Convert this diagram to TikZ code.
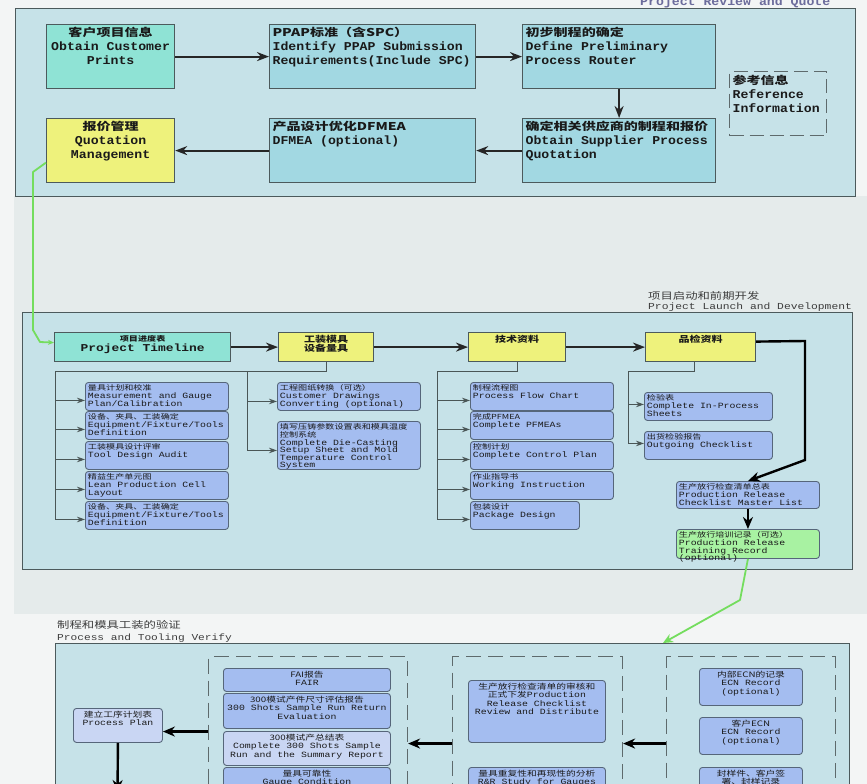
\documentclass[tikz,border=0pt]{standalone}
\usepackage{fontspec}
\usetikzlibrary{arrows.meta}
\newfontfamily\mf[FakeStretch=1.1]{Liberation Mono}
\newfontfamily\smf[FakeStretch=1.23]{Liberation Mono}
\newfontfamily\cjk[FakeStretch=1.3]{Noto Sans CJK SC}
\newcommand\bigf{\mf\bfseries\fontsize{12}{14}\selectfont}
\newcommand\smallf{\smf\fontsize{8}{7.6}\selectfont}
\newcommand\botf{\smf\fontsize{8}{8.5}\selectfont}
\newcommand\zhbig[1]{{\cjk\bfseries\fontsize{10.8}{14}\selectfont #1}}
\newcommand\zhsm[1]{{\cjk\fontsize{7}{7.6}\selectfont #1}}
\newcommand\zhmid[1]{{\cjk\bfseries\fontsize{8.5}{9}\selectfont #1}}
\newcommand\zhbot[1]{{\cjk\fontsize{7.5}{8.5}\selectfont #1}}
\newcommand\zhttl[1]{{\cjk\fontsize{9.5}{11}\selectfont #1}}
\newcommand\bxt[4]{\begin{minipage}[c][#2pt][t]{#1pt}#3#4\end{minipage}}
\definecolor{pfill}{HTML}{C6E2E8}
\definecolor{bdr}{HTML}{4C5A5C}
\definecolor{cteal}{HTML}{8FE3D5}
\definecolor{clb}{HTML}{A2D8E2}
\definecolor{cyel}{HTML}{EEF27C}
\definecolor{cblue}{HTML}{A4BDF0}
\definecolor{cbdr}{HTML}{56667A}
\definecolor{clav}{HTML}{C9D6F3}
\definecolor{cgrn}{HTML}{A8F2A2}
\definecolor{gln}{HTML}{74DD5E}
\definecolor{gdash}{HTML}{5E6A6C}
\definecolor{arrc}{HTML}{262626}
\definecolor{brc}{HTML}{4A5656}
\definecolor{txt}{HTML}{1A1A1A}
\definecolor{bgw}{HTML}{F3F5F5}
\definecolor{bgg}{HTML}{E5EBEB}
\definecolor{ttl}{HTML}{6C6C9C}
\definecolor{ttd}{HTML}{3C3C3C}
\begin{document}
\begin{tikzpicture}[x=1pt,y=-1pt,
 panel/.style={draw=bdr,line width=1.3pt,fill=pfill,anchor=north west,inner sep=0pt},
 tb/.style={draw=bdr,line width=1.2pt,inner sep=3pt,anchor=north west,font=\bigf,text=txt},
 cb/.style={draw=cbdr,line width=0.9pt,fill=cblue,rounded corners=3pt,inner sep=2.5pt,anchor=north west,font=\smallf,text=txt},
 bb/.style={cb,font=\botf},
 hb/.style={draw=bdr,line width=1.2pt,inner sep=2.5pt,anchor=north west,text=txt},
 grp/.style={draw=gdash,line width=1.1pt,dash pattern=on 15pt off 7pt,anchor=north west,inner sep=0pt},
 arr/.style={draw=arrc,line width=2pt,-{Stealth[length=12pt,width=9pt]}},
 tarr/.style={draw=black,line width=2.4pt,-{Stealth[length=12pt,width=10pt]}},
 brl/.style={draw=brc,line width=1pt},
 barr/.style={brl,-{Stealth[length=8pt,width=5.5pt]}},
 gline/.style={draw=gln,line width=1.8pt,line join=round}
]
\useasboundingbox (0,0) rectangle (867,784);
\fill[bgw] (0,0) rectangle (867,784);
\fill[bgg] (14,196) rectangle (867,614);

% ---------- panels ----------
\node[panel,minimum width=840pt,minimum height=188pt] (P1) at (15,8) {};
\node[panel,minimum width=830pt,minimum height=257pt] (P2) at (22,312) {};
\node[panel,minimum width=794pt,minimum height=180pt] (P3) at (55,643) {};

% ---------- titles ----------
\node[anchor=base west,inner sep=0pt,font=\mf\bfseries\fontsize{12}{12}\selectfont,text=ttl] (T1) at (640,6) {Project Review and Quote};
\node[anchor=north west,inner sep=0pt,align=left,text=ttd,font=\smf\fontsize{9.2}{10}\selectfont] (T2) at (648,291) {\zhttl{项目启动和前期开发}\\Project Launch and Development};
\node[anchor=north west,inner sep=0pt,align=left,text=ttd,font=\smf\fontsize{9.1}{12}\selectfont] (T3) at (57,620) {\zhttl{制程和模具工装的验证}\\Process and Tooling Verify};

% ---------- panel 1 ----------
\node[tb,fill=cteal] (A) at (46,24) {\bxt{122}{58}{\centering}{\zhbig{客户项目信息}\\Obtain Customer\\Prints}};
\node[tb,fill=clb] (B) at (269,24) {\bxt{200}{58}{\raggedright}{\zhbig{PPAP标准（含SPC）}\\Identify PPAP Submission\\Requirements(Include SPC)}};
\node[tb,fill=clb] (C) at (522,24) {\bxt{187}{58}{\raggedright}{\zhbig{初步制程的确定}\\Define Preliminary\\Process Router}};
\node[tb,fill=clb] (D) at (522,118) {\bxt{187}{58}{\raggedright}{\zhbig{确定相关供应商的制程和报价}\\Obtain Supplier Process\\Quotation}};
\node[tb,fill=clb] (E) at (269,118) {\bxt{200}{58}{\raggedright}{\zhbig{产品设计优化DFMEA}\\DFMEA (optional)}};
\node[tb,fill=cyel] (F) at (46,118) {\bxt{122}{58}{\centering}{\zhbig{报价管理}\\Quotation\\Management}};
\node[tb,draw=gdash,dash pattern=on 14pt off 6pt] (R) at (729,71) {\bxt{91}{58}{\raggedright}{\zhbig{参考信息}\\Reference\\Information}};

\draw[arr] (A) -- (B);
\draw[arr] (B) -- (C);
\draw[arr] (C) -- (D);
\draw[arr] (D) -- (E);
\draw[arr] (E) -- (F);

% ---------- panel 2 ----------
\node[hb,fill=cteal,font=\smf\bfseries\fontsize{10.5}{10}\selectfont] (PT) at (54,332) {\bxt{171}{24}{\centering}{\zhsm{项目进度表}\\Project Timeline}};
\node[hb,fill=cyel,font=\smf\fontsize{8}{9}\selectfont] (TM) at (278,332) {\bxt{90}{24}{\centering}{\zhmid{工装模具}\\\zhmid{设备量具}}};
\node[hb,fill=cyel,font=\smf\fontsize{8}{9}\selectfont] (TD) at (468,332) {\bxt{92}{24}{\centering}{\zhmid{技术资料}}};
\node[hb,fill=cyel,font=\smf\fontsize{8}{9}\selectfont] (QD) at (645,332) {\bxt{105}{24}{\centering}{\zhmid{品检资料}}};

\draw[arr] (PT) -- (TM);
\draw[arr] (TM) -- (TD);
\draw[arr] (TD) -- (QD);

\node[cb] (c11) at (85,382) {\bxt{138}{23}{\raggedright}{\zhsm{量具计划和校准}\\Measurement and Gauge\\Plan/Calibration}};
\node[cb] (c12) at (85,411) {\bxt{138}{23}{\raggedright}{\zhsm{设备、夹具、工装确定}\\Equipment/Fixture/Tools\\Definition}};
\node[cb] (c13) at (85,441) {\bxt{138}{23}{\raggedright}{\zhsm{工装模具设计评审}\\Tool Design Audit}};
\node[cb] (c14) at (85,471) {\bxt{138}{23}{\raggedright}{\zhsm{精益生产单元图}\\Lean Production Cell\\Layout}};
\node[cb] (c15) at (85,501) {\bxt{138}{23}{\raggedright}{\zhsm{设备、夹具、工装确定}\\Equipment/Fixture/Tools\\Definition}};

\node[cb] (c21) at (277,382) {\bxt{138}{23}{\raggedright}{\zhsm{工程图纸转换（可选）}\\Customer Drawings\\Converting (optional)}};
\node[cb] (c22) at (277,421) {\bxt{138}{43}{\raggedright}{\zhsm{填写压铸参数设置表和模具温度}\\\zhsm{控制系统}\\Complete Die-Casting\\Setup Sheet and Mold\\Temperature Control\\System}};

\node[cb] (c31) at (470,382) {\bxt{138}{23}{\raggedright}{\zhsm{制程流程图}\\Process Flow Chart}};
\node[cb] (c32) at (470,411) {\bxt{138}{23}{\raggedright}{\zhsm{完成PFMEA}\\Complete PFMEAs}};
\node[cb] (c33) at (470,441) {\bxt{138}{23}{\raggedright}{\zhsm{控制计划}\\Complete Control Plan}};
\node[cb] (c34) at (470,471) {\bxt{138}{23}{\raggedright}{\zhsm{作业指导书}\\Working Instruction}};
\node[cb] (c35) at (470,501) {\bxt{104}{23}{\raggedright}{\zhsm{包装设计}\\Package Design}};

\node[cb] (c41) at (644,392) {\bxt{123}{23}{\raggedright}{\zhsm{检验表}\\Complete In-Process\\Sheets}};
\node[cb] (c42) at (644,431) {\bxt{123}{23}{\raggedright}{\zhsm{出货检验报告}\\Outgoing Checklist}};

\node[cb] (PRL) at (676,481) {\bxt{138}{22}{\raggedright}{\zhsm{生产放行检查清单总表}\\Production Release\\Checklist Master List}};
\node[cb,fill=cgrn] (GR) at (676,529) {\bxt{138}{24}{\raggedright}{\zhsm{生产放行培训记录（可选）}\\Production Release\\Training Record\\(optional)}};

\coordinate (b1) at (55,371);
\coordinate (b2) at (247,371);
\coordinate (b3) at (437,371);
\coordinate (b4) at (628,371);
\draw[brl] (TM.south) |- (b1) -- ([yshift=-4pt]c15.west -| b1);
\draw[brl] (b2) -- ([yshift=-5pt]c22.west -| b2);
\draw[brl] (TD.south) |- (b3) -- ([yshift=-4pt]c35.west -| b3);
\draw[brl] ([xshift=-6pt]QD.south) |- (b4) -- ([yshift=2pt]c42.west -| b4);
\foreach \n in {c11,c12,c13,c14,c15}{\draw[barr] ([yshift=-4pt]\n.west -| b1) -- ([yshift=-4pt]\n.west);}
\foreach \n in {c21,c22}{\draw[barr] ([yshift=-5pt]\n.west -| b2) -- ([yshift=-5pt]\n.west);}
\foreach \n in {c31,c32,c33,c34,c35}{\draw[barr] ([yshift=-4pt]\n.west -| b3) -- ([yshift=-4pt]\n.west);}
\foreach \n in {c41,c42}{\draw[barr] ([yshift=2pt]\n.west -| b4) -- ([yshift=2pt]\n.west);}

\draw[tarr] ([yshift=5.5pt]QD.east) -- (805,341) -- (805,460) -- (PRL.north);
\draw[tarr] (PRL) -- (GR);

% ---------- panel 3 ----------
\node[grp,minimum width=199pt,minimum height=150pt] (G1) at (208,656) {};
\node[grp,minimum width=170pt,minimum height=150pt] (G2) at (452,656) {};
\node[grp,minimum width=169pt,minimum height=150pt] (G3) at (666,656) {};

\node[cb,fill=clav,font=\botf] (PP) at (73,708) {\bxt{84}{29}{\centering}{\zhbot{建立工序计划表}\\Process Plan}};

\node[bb] (F1) at (223,668) {\bxt{162}{18}{\centering}{\zhbot{FAI报告}\\FAIR}};
\node[bb] (F2) at (223,693) {\bxt{162}{30}{\centering}{\zhbot{300模试产件尺寸评估报告}\\300 Shots Sample Run Return\\Evaluation}};
\node[bb,fill=clav] (F3) at (223,731) {\bxt{162}{29}{\centering}{\zhbot{300模试产总结表}\\Complete 300 Shots Sample\\Run and the Summary Report}};
\node[bb] (F4) at (223,767) {\bxt{162}{30}{\centering}{\zhbot{量具可靠性}\\Gauge Condition}};

\node[bb] (H1) at (468,680) {\bxt{132}{57}{\centering}{\zhbot{生产放行检查清单的审核和}\\\zhbot{正式下发}Production\\Release Checklist\\Review and Distribute}};
\node[bb] (H2) at (468,767) {\bxt{132}{30}{\centering}{\zhbot{量具重复性和再现性的分析}\\R\&R Study for Gauges}};

\node[bb] (K1) at (699,668) {\bxt{98}{32}{\centering}{\zhbot{内部ECN的记录}\\ECN Record\\(optional)}};
\node[bb] (K2) at (699,717) {\bxt{98}{32}{\centering}{\zhbot{客户ECN}\\ECN Record\\(optional)}};
\node[bb] (K3) at (699,767) {\bxt{98}{30}{\centering}{\zhbot{封样件、客户签}\\\zhbot{署、封样记录}}};

\draw[tarr] (G1.west) -- (G1.west -| PP.east);
\draw[tarr] ([yshift=-12pt]G2.west) -- ([yshift=-12pt]G1.east);
\draw[tarr] ([yshift=-12pt]G3.west) -- ([yshift=-12pt]G2.east);
\coordinate (ppe) at (117.5,792);
\draw[tarr] (PP.south) -- (ppe);

% ---------- green connectors ----------
\draw[gline,-{Stealth[length=6pt,width=5pt]}] ([yshift=-12pt]F.west) -- (33,172) -- (33,330) -- (40,342) -- ([yshift=4.5pt]PT.west);
\coordinate (g3) at (663,643);
\draw[gline,-{Stealth[length=10pt,width=9pt]}] (GR.south) -- (740,600) -- (g3);
\end{tikzpicture}
\end{document}
